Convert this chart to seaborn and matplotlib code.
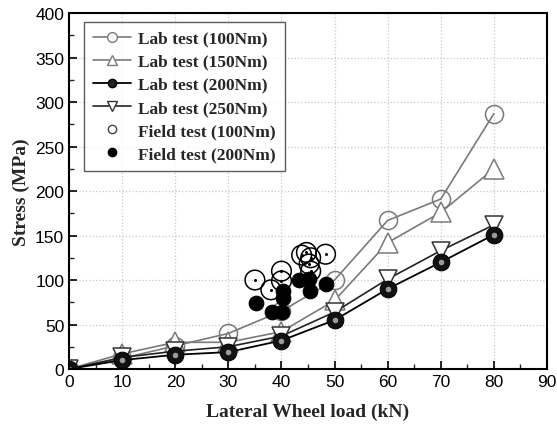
import numpy as np
import pandas as pd
import matplotlib
matplotlib.use("Agg")
import matplotlib.pyplot as plt
from matplotlib.lines import Line2D
import seaborn as sns

# lab test data (lateral wheel load kN vs stress MPa)
load = [0, 10, 20, 30, 40, 50, 60, 70, 80]
lab_100 = [0, 12, 26, 40, 65, 100, 167, 191, 287]
lab_150 = [0, 17, 30, 30, 42, 77, 142, 176, 225]
lab_200 = [0, 10, 16, 19, 32, 55, 90, 120, 151]
lab_250 = [0, 13, 20, 25, 37, 64, 101, 133, 162]

# field test data
field100_x = [35, 38, 40, 40, 43.8, 44.7, 45.5, 45.2, 45.5, 48.3]
field100_y = [100, 89, 110, 99, 128, 131, 125, 118, 110, 129]
field200_x = [35.2, 38.2, 40.1, 40.3, 40.3, 43.3, 45.2, 45.3, 48.3]
field200_y = [74, 64, 64, 88, 80, 100, 101, 88, 96]

sns.set_theme(style="ticks")
plt.rcParams['font.family'] = ['Liberation Sans', 'DejaVu Sans']
plt.rcParams['xtick.direction'] = 'in'
plt.rcParams['ytick.direction'] = 'in'

fig = plt.figure(figsize=(5.57, 4.27), dpi=100)
ax = fig.add_axes([0.124, 0.1335, 0.858, 0.8335])

grey = '#7a7a7a'
sns.lineplot(x=load, y=lab_100, ax=ax, color=grey, lw=1.2, marker='o', markersize=13,
             markerfacecolor='none', markeredgecolor=grey, markeredgewidth=1.1)
sns.lineplot(x=load, y=lab_150, ax=ax, color=grey, lw=1.2, marker='^', markersize=14,
             markerfacecolor='white', markeredgecolor=grey, markeredgewidth=1.1)
sns.lineplot(x=load, y=lab_250, ax=ax, color='#222222', lw=1.2, marker='v', markersize=13,
             markerfacecolor='white', markeredgecolor='#333333', markeredgewidth=1.1)
sns.lineplot(x=load, y=lab_200, ax=ax, color='black', lw=1.3, marker='o', markersize=12,
             markerfacecolor='#111111', markeredgecolor='black')
# sphere highlight
ax.plot(load, lab_200, ls='none', marker='o', markersize=4, color='#9a9a9a', mec='none')

sns.scatterplot(x=field100_x, y=field100_y, ax=ax, s=200, facecolor='none',
                edgecolor='black', linewidth=1.1, zorder=4)
ax.plot(field100_x, field100_y, ls='none', marker='o', markersize=1.2, color='black')
sns.scatterplot(x=field200_x, y=field200_y, ax=ax, s=110, color='black',
                edgecolor='black', zorder=4)

ax.set_xlim(0, 90)
ax.set_ylim(0, 400)
ax.set_xticks(np.arange(0, 91, 10))
ax.set_yticks(np.arange(0, 401, 50))
ax.set_xticks(np.arange(0, 91, 5), minor=True)
ax.set_yticks(np.arange(0, 401, 25), minor=True)
ax.tick_params(which='major', length=6, width=1.2, labelsize=12.5, colors='black')
ax.tick_params(which='minor', length=3.5, width=1.0)
ax.grid(True, which='major', ls=':', color='#c8c8c8', lw=0.9)
for s in ax.spines.values():
    s.set_linewidth(1.5)
    s.set_color('black')

serif = {'family': ['Liberation Serif', 'DejaVu Serif'], 'weight': 'bold', 'size': 14}
ax.set_xlabel('Lateral Wheel load (kN)', fontdict=serif, labelpad=10)
ax.set_ylabel('Stress (MPa)', fontdict=serif, labelpad=4)

handles = [
    Line2D([], [], color=grey, lw=1.2, marker='o', ms=7, mfc='white', mec=grey),
    Line2D([], [], color=grey, lw=1.2, marker='^', ms=7, mfc='white', mec=grey),
    Line2D([], [], color='black', lw=1.3, marker='o', ms=6, mfc='#222222', mec='black'),
    Line2D([], [], color='#222222', lw=1.2, marker='v', ms=7, mfc='white', mec='#333333'),
    Line2D([], [], ls='none', marker='o', ms=6, mfc='white', mec='#444444'),
    Line2D([], [], ls='none', marker='o', ms=6, mfc='black', mec='black'),
]
labels = ['Lab test (100Nm)', 'Lab test (150Nm)', 'Lab test (200Nm)',
          'Lab test (250Nm)', 'Field test (100Nm)', 'Field test (200Nm)']
leg = ax.legend(handles, labels, loc='upper left', bbox_to_anchor=(0.014, 1.0),
                prop={'family': ['Liberation Serif', 'DejaVu Serif'], 'weight': 'bold', 'size': 12.5},
                frameon=True, fancybox=False, edgecolor='#333333', handlelength=2.2,
                handletextpad=0.4, labelspacing=0.4, borderpad=0.5)
leg.get_frame().set_linewidth(1.0)

fig.savefig('out.png', dpi=100)
